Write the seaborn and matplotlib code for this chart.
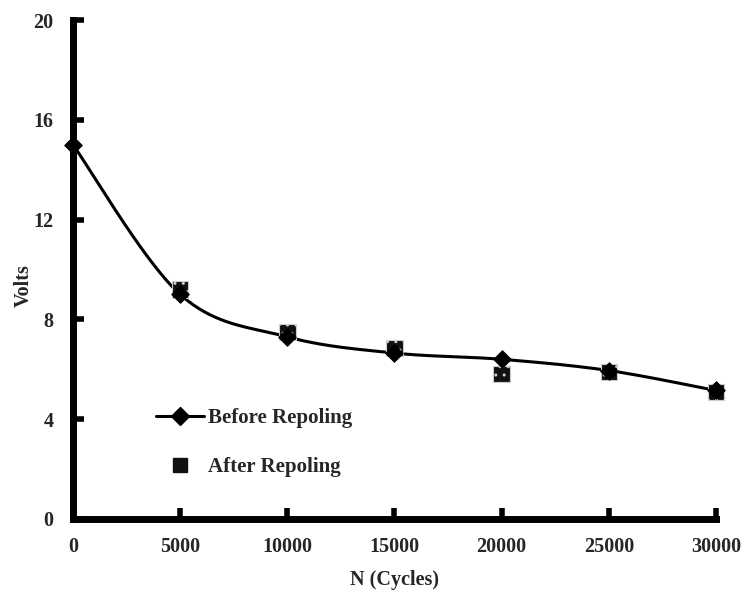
import numpy as np
import pandas as pd
import matplotlib
matplotlib.use("Agg")
import matplotlib.pyplot as plt
import seaborn as sns

cycles = [0, 5000, 10000, 15000, 20000, 25000, 30000]
before_volts = [15.0, 9.0, 7.3, 6.65, 6.4, 5.95, 5.15]
after_cycles = [5000, 10000, 15000, 20000, 25000, 30000]
after_volts = [9.2, 7.5, 6.85, 5.8, 5.9, 5.1]
x_ticks = [0, 5000, 10000, 15000, 20000, 25000, 30000]
y_ticks = [0, 4, 8, 12, 16, 20]

sns.set_theme(style="white")
plt.rcParams['font.family'] = ['Liberation Serif', 'DejaVu Serif']
plt.rcParams['font.weight'] = 'bold'

fig = plt.figure(figsize=(7.45, 5.99), dpi=100)
ax = fig.add_axes([0.098, 0.1336, 0.863, 0.833])


def smooth(xs, ys, n=40):
    # Catmull-Rom style smoothing of the line between data points (Excel-like)
    xs = np.asarray(xs, float)
    ys = np.asarray(ys, float)
    ox, oy = [], []
    m = len(xs)
    for i in range(m - 1):
        p1 = np.array([xs[i], ys[i]])
        p2 = np.array([xs[i+1], ys[i+1]])
        p0 = np.array([xs[i-1], ys[i-1]]) if i > 0 else p1
        p3 = np.array([xs[i+2], ys[i+2]]) if i + 2 < m else p2
        c1 = p1 + (p2 - p0) / 6
        c2 = p2 - (p3 - p1) / 6
        t = np.linspace(0, 1, n)[:, None]
        pts = (1-t)**3*p1 + 3*(1-t)**2*t*c1 + 3*(1-t)*t**2*c2 + t**3*p2
        ox.extend(pts[:, 0]); oy.extend(pts[:, 1])
    return ox, oy

sx, sy = smooth(cycles, before_volts)
smooth_df = pd.DataFrame({"N": sx, "V": sy})
sns.lineplot(data=smooth_df, x="N", y="V", ax=ax, color="black", lw=2.2,
             sort=False, estimator=None, zorder=3, clip_on=False)

after_df = pd.DataFrame({"N": after_cycles, "V": after_volts})
sns.scatterplot(data=after_df, x="N", y="V", ax=ax, marker="s", s=140,
                color="#111111", edgecolor="#111111", linewidth=0.8,
                zorder=4, clip_on=False)
ax.collections[-1].set_hatch("..")
ax.collections[-1].set_edgecolor("#cccccc")

before_df = pd.DataFrame({"N": cycles, "V": before_volts})
sns.scatterplot(data=before_df, x="N", y="V", ax=ax, marker="D", s=80,
                color="black", edgecolor="black", zorder=5, clip_on=False)

ax.set_xlim(0, 30000)
ax.set_ylim(0, 20)
ax.set_xticks(x_ticks)
ax.set_yticks(y_ticks)
ax.set_xticklabels([str(v) for v in x_ticks], fontsize=14.5, fontweight='bold')
ax.set_yticklabels([str(v) for v in y_ticks], fontsize=14.5, fontweight='bold')
ax.tick_params(axis='both', direction='in', length=8, width=4, color='black',
               bottom=True, left=True)
ax.tick_params(axis='x', pad=13)
ax.tick_params(axis='y', pad=14)

for side in ['top', 'right']:
    ax.spines[side].set_visible(False)
for side in ['left', 'bottom']:
    ax.spines[side].set_linewidth(5)
    ax.spines[side].set_color('black')
    ax.spines[side].set_zorder(2)

ax.set_xlabel("N (Cycles)", fontsize=14.5, fontweight='bold', labelpad=9)
ax.set_ylabel("Volts", fontsize=14.5, fontweight='bold', labelpad=0)
ax.yaxis.label.set_y(0.467)

from matplotlib.lines import Line2D
h1 = Line2D([], [], color='black', lw=2.2, marker='D', markersize=9)
h2 = Line2D([], [], color='none', marker='s', markersize=10,
            markerfacecolor='#111111', markeredgecolor='#111111')
leg = ax.legend([h1, h2], ["Before Repoling", "After Repoling"],
                loc='upper left', bbox_to_anchor=(0.1, 0.26), frameon=False,
                prop={'family': 'Liberation Serif', 'weight': 'bold', 'size': 15},
                handlelength=2.3, labelspacing=1.4, handletextpad=0.2)

fig.savefig("out.png", dpi=100, facecolor="white")
